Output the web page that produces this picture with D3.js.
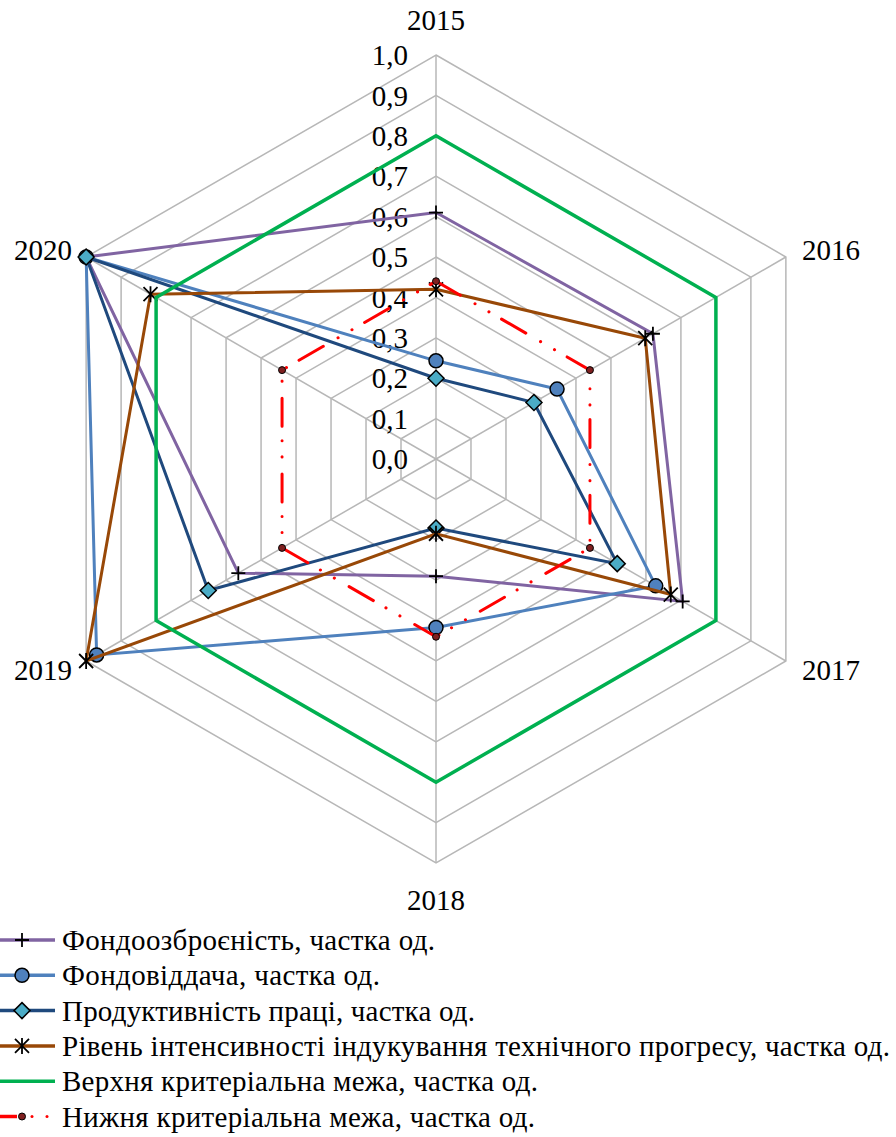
<!DOCTYPE html>
<meta charset="utf-8" />
<style>
  body { margin: 0; background: #fff; }
  text { font-family: "Liberation Serif", "Times New Roman", serif; fill: #000; }
  .tick { font-size: 29px; }
  .year { font-size: 29px; }
  .legend text { font-size: 29px; }
</style>
<svg width="896" height="1137"></svg>
<script src="https://d3js.org/d3.v7.min.js"></script>
<script>
  // years round the radar, clockwise from the top
  var years = ["2015", "2016", "2017", "2018", "2019", "2020"];
  var tickValues = [0, 0.1, 0.2, 0.3, 0.4, 0.5, 0.6, 0.7, 0.8, 0.9, 1.0];

  var fondoozbr = [0.61, 0.62, 0.705, 0.29, 0.565, 1.0];
  var fondovid = [0.243, 0.346, 0.628, 0.417, 0.97, 1.0];
  var produkt = [0.2, 0.28, 0.518, 0.171, 0.651, 1.0];
  var riven = [0.42, 0.598, 0.671, 0.185, 1.0, 0.816];
  var verkhnia = [0.8, 0.8, 0.8, 0.8, 0.8, 0.8];
  var nyzhnia = [0.44, 0.44, 0.44, 0.44, 0.44, 0.44];

  var seriesNames = [
    "Фондоозброєність,  частка од.",
    "Фондовіддача, частка од.",
    "Продуктивність праці, частка од.",
    "Рівень  інтенсивності  індукування  технічного  прогресу, частка од.",
    "Верхня критеріальна межа, частка од.",
    "Нижня критеріальна межа, частка од."
  ];

  var series = [
    { name: seriesNames[0], values: fondoozbr, color: "#8064a2", marker: "plus" },
    { name: seriesNames[1], values: fondovid, color: "#4f81bd", marker: "circle" },
    { name: seriesNames[2], values: produkt, color: "#1f497d", marker: "diamond" },
    { name: seriesNames[3], values: riven, color: "#984807", marker: "star" },
    { name: seriesNames[4], values: verkhnia, color: "#00b050", marker: "none" },
    { name: seriesNames[5], values: nyzhnia, color: "#ff0000", marker: "dot", dash: true }
  ];

  // legend text widths as they appear in the picture
  var legendWidths = [373, 318, 413, 828, 476, 473];

  var svg = d3.select("svg"),
    cx = 436,
    cy = 459,
    R = 404;

  var r = d3.scaleLinear().domain([0, 1]).range([0, R]);
  var angle = d3.scalePoint().domain(years.concat(["_"])).range([0, 2 * Math.PI]);

  var g = svg.append("g").attr("transform", "translate(" + cx + "," + cy + ")");

  function px(year, v) {
    var a = angle(year);
    return [r(v) * Math.sin(a), -r(v) * Math.cos(a)];
  }

  var radial = d3
    .lineRadial()
    .angle(function(d) { return angle(d.year); })
    .radius(function(d) { return r(d.value); })
    .curve(d3.curveLinearClosed);

  // grid rings
  g.selectAll(".ring")
    .data(tickValues.slice(1))
    .enter()
    .append("path")
    .attr("d", function(t) {
      return radial(years.map(function(y) { return { year: y, value: t }; }));
    })
    .attr("fill", "none")
    .attr("stroke", "#b7b7b7")
    .attr("stroke-width", 1.5);

  // spokes
  g.selectAll(".spoke")
    .data(years)
    .enter()
    .append("line")
    .attr("x1", 0)
    .attr("y1", 0)
    .attr("x2", function(y) { return px(y, 1)[0]; })
    .attr("y2", function(y) { return px(y, 1)[1]; })
    .attr("stroke", "#b7b7b7")
    .attr("stroke-width", 1.5);

  // tick labels up the 2015 spoke
  var fmt = function(v) { return d3.format(".1f")(v).replace(".", ","); };
  g.selectAll(".tick")
    .data(tickValues)
    .enter()
    .append("text")
    .attr("class", "tick")
    .attr("x", -28)
    .attr("y", function(t) { return -r(t); })
    .attr("dy", "0.35em")
    .attr("text-anchor", "end")
    .text(fmt);

  // year labels
  var yearPos = {
    "2015": { x: 0, y: -439, anchor: "middle" },
    "2016": { x: 366, y: -209, anchor: "start" },
    "2017": { x: 366, y: 211, anchor: "start" },
    "2018": { x: 0, y: 441, anchor: "middle" },
    "2019": { x: -364, y: 211, anchor: "end" },
    "2020": { x: -364, y: -209, anchor: "end" }
  };
  g.selectAll(".year")
    .data(years)
    .enter()
    .append("text")
    .attr("class", "year")
    .attr("x", function(y) { return yearPos[y].x; })
    .attr("y", function(y) { return yearPos[y].y; })
    .attr("dy", "0.35em")
    .attr("text-anchor", function(y) { return yearPos[y].anchor; })
    .text(function(y) { return y; });

  var plusPath = "M-7,0H7M0,-7V7";
  var starPath = "M-7,-7L7,7M-7,7L7,-7M0,-8V8";

  function drawMarker(sel, s) {
    if (s.marker === "plus") {
      sel.append("path").attr("d", plusPath).attr("stroke", "#000").attr("stroke-width", 1.8).attr("fill", "none");
    } else if (s.marker === "circle") {
      sel.append("circle").attr("r", 7).attr("fill", "#4f81bd").attr("stroke", "#000").attr("stroke-width", 1.5);
    } else if (s.marker === "diamond") {
      sel.append("path").attr("d", "M0,-8L8,0L0,8L-8,0Z").attr("fill", "#4bacc6").attr("stroke", "#000").attr("stroke-width", 1.5);
    } else if (s.marker === "star") {
      sel.append("path").attr("d", starPath).attr("stroke", "#000").attr("stroke-width", 1.8).attr("fill", "none");
    } else if (s.marker === "dot") {
      sel.append("circle").attr("r", 3.5).attr("fill", "#7f2020").attr("stroke", "#000").attr("stroke-width", 1);
    }
  }

  series.forEach(function(s) {
    var pts = years.map(function(y, i) { return { year: y, value: s.values[i] }; });
    var sg = g.append("g");
    sg.append("path")
      .attr("d", radial(pts))
      .attr("fill", "none")
      .attr("stroke", s.color)
      .attr("stroke-width", s.marker === "none" ? 3.5 : 3)
      .attr("stroke-linecap", s.dash ? "round" : "butt")
      .attr("stroke-dasharray", s.dash ? "28,17,0.1,16,0.1,14.5" : null);
    sg.selectAll(".m")
      .data(pts)
      .enter()
      .append("g")
      .attr("transform", function(d) { return "translate(" + px(d.year, d.value) + ")"; })
      .each(function() { drawMarker(d3.select(this), s); });
  });

  // legend
  var legend = svg.append("g").attr("class", "legend");
  var rows = legend
    .selectAll("g")
    .data(series)
    .enter()
    .append("g")
    .attr("transform", function(d, i) { return "translate(0," + (940 + i * 35.3) + ")"; });

  rows.each(function(s, i) {
    var row = d3.select(this);
    if (s.dash) {
      row.append("line").attr("x1", 0).attr("x2", 17).attr("stroke", s.color).attr("stroke-width", 3.5);
      row.append("circle").attr("cx", 32).attr("r", 1.5).attr("fill", s.color);
      row.append("circle").attr("cx", 47).attr("r", 1.5).attr("fill", s.color);
    } else {
      row.append("line").attr("x1", 0).attr("x2", 55).attr("stroke", s.color).attr("stroke-width", 3.5);
    }
    var m = row.append("g").attr("transform", "translate(22,0)");
    drawMarker(m, s);
    row.append("text")
      .attr("x", 62)
      .attr("dy", "0.35em")
      .attr("textLength", legendWidths[i])
      .attr("lengthAdjust", "spacing")
      .text(s.name);
  });
</script>
